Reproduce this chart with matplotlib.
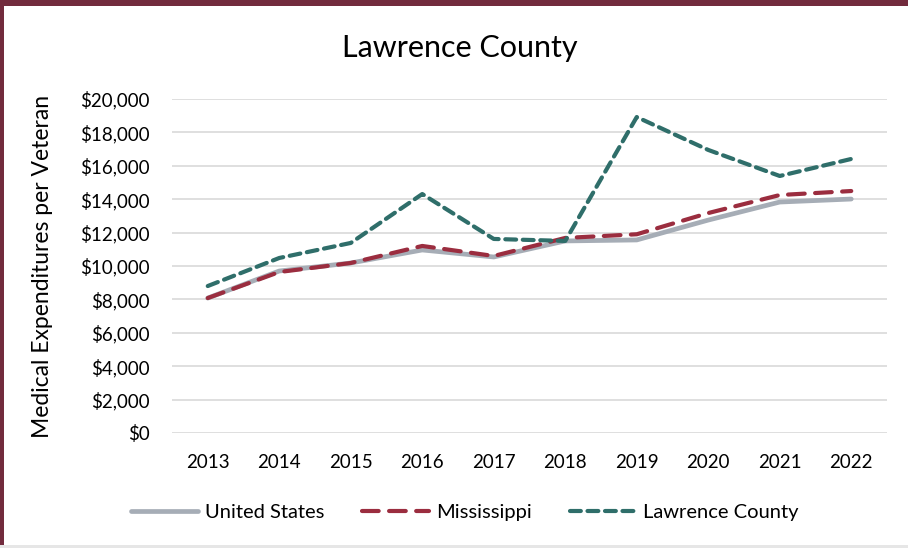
import matplotlib
matplotlib.use("Agg")
import matplotlib.pyplot as plt
from matplotlib.patches import Rectangle
from matplotlib.ticker import FuncFormatter

years = [2013, 2014, 2015, 2016, 2017, 2018, 2019, 2020, 2021, 2022]
united_states = [8080, 9700, 10180, 10960, 10540, 11500, 11560, 12750, 13830, 14010]
mississippi = [8080, 9640, 10180, 11200, 10600, 11680, 11900, 13170, 14250, 14490]
lawrence_county = [8800, 10480, 11380, 14310, 11620, 11500, 18920, 16950, 15390, 16410]
y_ticks = list(range(0, 20001, 2000))

plt.rcParams['font.family'] = ['Lato', 'DejaVu Sans']

W, H = 908, 548
fig = plt.figure(figsize=(W / 100, H / 100), dpi=100)
fig.patch.set_facecolor('white')

# frame bands
fig.add_artist(Rectangle((0, 1 - 6 / H), 1, 6 / H, transform=fig.transFigure,
                         facecolor='#722b3d', edgecolor='none', zorder=10))
fig.add_artist(Rectangle((0, 0), 4 / W, 1, transform=fig.transFigure,
                         facecolor='#722b3d', edgecolor='none', zorder=10))
fig.add_artist(Rectangle((0, 0), 1, 3 / H, transform=fig.transFigure,
                         facecolor='#e6e6e6', edgecolor='none', zorder=10))

ax = fig.add_axes([172 / W, 1 - 433 / H, (887 - 172) / W, (433 - 99) / H])
ax.set_xlim(2012.5, 2022.5)
ax.set_ylim(0, 20000)
ax.set_yticks(y_ticks)
ax.set_xticks(years)
ax.yaxis.set_major_formatter(FuncFormatter(lambda v, p: f"${int(v):,}"))
ax.grid(axis='y', color='#d9d9d9', linewidth=1.2)
ax.set_axisbelow(True)
for s in ax.spines.values():
    s.set_visible(False)
ax.tick_params(axis='both', length=0, labelsize=13.5, colors='#000000')
ax.tick_params(axis='x', pad=15)
ax.tick_params(axis='y', pad=16)

ax.plot(years, united_states, color='#a6adb6', linewidth=3.4, solid_capstyle='round',
        label='United States')
ax.plot(years, mississippi, color='#9b2d3f', linewidth=3.0, dashes=(4, 2.5),
        dash_capstyle='round', label='Mississippi')
ax.plot(years, lawrence_county, color='#2f6e6a', linewidth=3.0, dashes=(2.6, 1.6),
        dash_capstyle='round', label='Lawrence County')

ax.set_ylabel('Medical Expenditures per Veteran', fontsize=16.5)
ax.yaxis.set_label_coords(-(172 - 53) / (887 - 172), 0.5)

fig.text(460 / W, 1 - 48 / H, 'Lawrence County', ha='center', va='center', fontsize=22)

leg = fig.legend(loc='center', bbox_to_anchor=(465 / W, 1 - 512 / H), ncol=3,
                 frameon=False, fontsize=14.5, handlelength=3.3, columnspacing=1.9,
                 handletextpad=0.35)

fig.savefig('out.png', dpi=100)
